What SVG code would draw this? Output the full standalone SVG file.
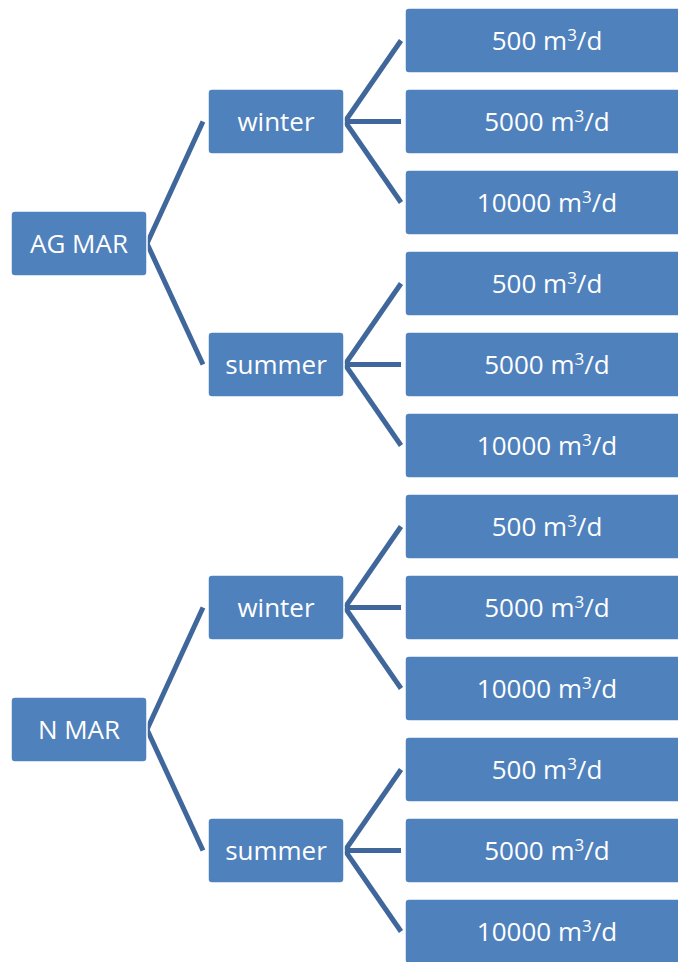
<svg xmlns="http://www.w3.org/2000/svg" width="678" height="962" viewBox="0 0 678 962">
<style>
.n{fill:#4F81BD;stroke:#FFFFFF;stroke-width:1.5}
.t{font-family:"Open Sans","Liberation Sans",sans-serif;font-size:26px;fill:#FFFFFF;text-anchor:middle}
.s{font-size:17px}
.c line{stroke:#3F679B;stroke-width:5;stroke-linecap:butt}
</style>
<rect width="678" height="962" fill="#FFFFFF"/>
<g class="c" id="connectors">
<line x1="147" y1="243.5" x2="203" y2="121.5"/>
<line x1="147" y1="243.5" x2="203" y2="364.5"/>
<line x1="345" y1="121.5" x2="401" y2="40.5"/>
<line x1="345" y1="121.5" x2="401" y2="121.5"/>
<line x1="345" y1="121.5" x2="401" y2="202.5"/>
<line x1="345" y1="364.5" x2="401" y2="283.5"/>
<line x1="345" y1="364.5" x2="401" y2="364.5"/>
<line x1="345" y1="364.5" x2="401" y2="445.5"/>
<line x1="147" y1="729.5" x2="203" y2="607.5"/>
<line x1="147" y1="729.5" x2="203" y2="850.5"/>
<line x1="345" y1="607.5" x2="401" y2="526.5"/>
<line x1="345" y1="607.5" x2="401" y2="607.5"/>
<line x1="345" y1="607.5" x2="401" y2="688.5"/>
<line x1="345" y1="850.5" x2="401" y2="769.5"/>
<line x1="345" y1="850.5" x2="401" y2="850.5"/>
<line x1="345" y1="850.5" x2="401" y2="931.5"/>
</g>
<g id="agmar"><rect class="n" x="11" y="211" width="136" height="65" rx="4"/><text class="t" x="79" y="252.5">AG MAR</text></g>
<g id="agmar-winter"><rect class="n" x="208" y="89" width="136" height="65" rx="4"/><text class="t" x="276" y="130.5">winter</text></g>
<g id="agmar-summer"><rect class="n" x="208" y="332" width="136" height="65" rx="4"/><text class="t" x="276" y="373.5">summer</text></g>
<g id="nmar"><rect class="n" x="11" y="697" width="136" height="65" rx="4"/><text class="t" x="79" y="738.5">N MAR</text></g>
<g id="nmar-winter"><rect class="n" x="208" y="575" width="136" height="65" rx="4"/><text class="t" x="276" y="616.5">winter</text></g>
<g id="nmar-summer"><rect class="n" x="208" y="818" width="136" height="65" rx="4"/><text class="t" x="276" y="859.5">summer</text></g>
<g id="l1"><rect class="n" x="405" y="8" width="285" height="65" rx="4"/><text class="t" x="547" y="49.5">500 m<tspan class="s" dy="-9">3</tspan><tspan dy="9">/d</tspan></text></g>
<g id="l2"><rect class="n" x="405" y="89" width="285" height="65" rx="4"/><text class="t" x="547" y="130.5">5000 m<tspan class="s" dy="-9">3</tspan><tspan dy="9">/d</tspan></text></g>
<g id="l3"><rect class="n" x="405" y="170" width="285" height="65" rx="4"/><text class="t" x="547" y="211.5">10000 m<tspan class="s" dy="-9">3</tspan><tspan dy="9">/d</tspan></text></g>
<g id="l4"><rect class="n" x="405" y="251" width="285" height="65" rx="4"/><text class="t" x="547" y="292.5">500 m<tspan class="s" dy="-9">3</tspan><tspan dy="9">/d</tspan></text></g>
<g id="l5"><rect class="n" x="405" y="332" width="285" height="65" rx="4"/><text class="t" x="547" y="373.5">5000 m<tspan class="s" dy="-9">3</tspan><tspan dy="9">/d</tspan></text></g>
<g id="l6"><rect class="n" x="405" y="413" width="285" height="65" rx="4"/><text class="t" x="547" y="454.5">10000 m<tspan class="s" dy="-9">3</tspan><tspan dy="9">/d</tspan></text></g>
<g id="l7"><rect class="n" x="405" y="494" width="285" height="65" rx="4"/><text class="t" x="547" y="535.5">500 m<tspan class="s" dy="-9">3</tspan><tspan dy="9">/d</tspan></text></g>
<g id="l8"><rect class="n" x="405" y="575" width="285" height="65" rx="4"/><text class="t" x="547" y="616.5">5000 m<tspan class="s" dy="-9">3</tspan><tspan dy="9">/d</tspan></text></g>
<g id="l9"><rect class="n" x="405" y="656" width="285" height="65" rx="4"/><text class="t" x="547" y="697.5">10000 m<tspan class="s" dy="-9">3</tspan><tspan dy="9">/d</tspan></text></g>
<g id="l10"><rect class="n" x="405" y="737" width="285" height="65" rx="4"/><text class="t" x="547" y="778.5">500 m<tspan class="s" dy="-9">3</tspan><tspan dy="9">/d</tspan></text></g>
<g id="l11"><rect class="n" x="405" y="818" width="285" height="65" rx="4"/><text class="t" x="547" y="859.5">5000 m<tspan class="s" dy="-9">3</tspan><tspan dy="9">/d</tspan></text></g>
<g id="l12"><rect class="n" x="405" y="899" width="285" height="65" rx="4"/><text class="t" x="547" y="940.5">10000 m<tspan class="s" dy="-9">3</tspan><tspan dy="9">/d</tspan></text></g>
</svg>
